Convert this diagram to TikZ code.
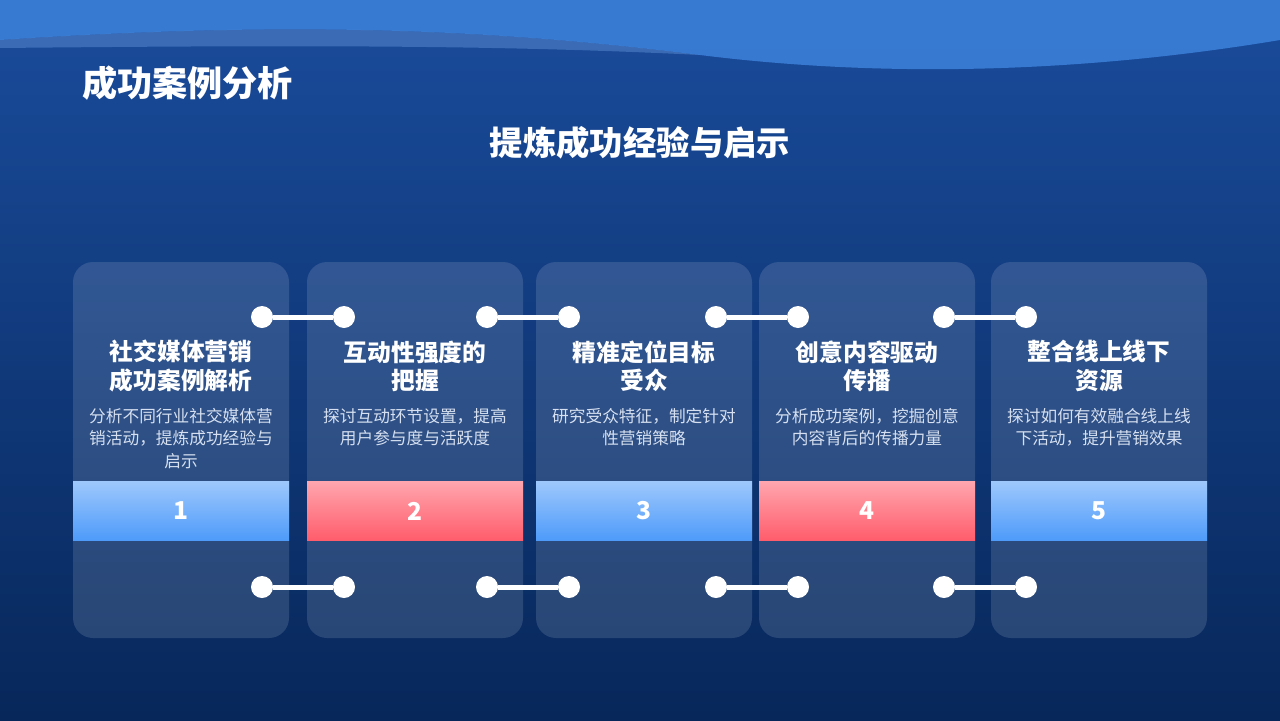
\documentclass[tikz,border=0pt]{standalone}
\usepackage{fontspec}
\setmainfont{Noto Sans CJK SC}
\usepackage{tikz}
\definecolor{bgtop}{HTML}{1A4C9C}
\definecolor{bgbot}{HTML}{07275A}
\definecolor{wave}{HTML}{3F86E0}
\definecolor{bandblue}{HTML}{4E9BFA}
\definecolor{bandred}{HTML}{FF5D6C}
\definecolor{desc}{HTML}{D6E0F0}
\tikzset{
  card/.style={fill=white, fill opacity=0.13, rounded corners=20*0.02cm},
  cardtitle/.style={text=white, font=\bfseries\fontsize{13.5}{16}\selectfont, align=center},
  carddesc/.style={text=desc, font=\fontsize{9.5}{12.8}\selectfont, align=center},
  num/.style={text=white, font=\bfseries\fontsize{14}{16}\selectfont},
  dot/.style={circle, fill=white, minimum size=22*0.02cm, inner sep=0pt},
  link/.style={white, line width=5*0.02cm}
}
\begin{document}
\begin{tikzpicture}[x=0.02cm, y=-0.02cm]
    \shade[top color=bgtop, bottom color=bgbot] (0,0) rectangle (1280,720);
    \useasboundingbox (0,0) rectangle (1280,720);
    % wave at the top
    \fill[wave, opacity=0.8] (0,0) -- (0,40) .. controls (300,20) and (500,30) .. (700,55)
        .. controls (900,80) and (1100,70) .. (1280,40) -- (1280,0) -- cycle;
    \fill[wave!70!white, opacity=0.35] (0,40) .. controls (300,20) and (500,30) .. (700,55)
        .. controls (500,45) and (300,45) .. (0,48) -- cycle;
    \node[text=white, font=\bfseries\fontsize{20}{24}\selectfont, anchor=west] (title) at (76,83) {成功案例分析};
    \node[text=white, font=\bfseries\fontsize{19}{24}\selectfont] (subtitle) at (640,143) {提炼成功经验与启示};
    % cards
    \foreach \x/\c/\n/\ta/\tb/\da in {
        73/bandblue/1/社交媒体营销/成功案例解析/{分析不同行业社交媒体营\\销活动，提炼成功经验与\\启示},
        307/bandred/2/互动性强度的/把握/{探讨互动环节设置，提高\\用户参与度与活跃度},
        536/bandblue/3/精准定位目标/受众/{研究受众特征，制定针对\\性营销策略},
        759/bandred/4/创意内容驱动/传播/{分析成功案例，挖掘创意\\内容背后的传播力量},
        991/bandblue/5/整合线上线下/资源/{探讨如何有效融合线上线\\下活动，提升营销效果}} {
      \fill[card] (\x,262) rectangle ++(216,376);
      \shade[top color=\c!55!white, bottom color=\c] (\x,481) rectangle ++(216,59);
      \node[num] (num\n) at (\x+108,511) {\n};
      \node[cardtitle] (head\n) at (\x+108,366) {\ta\\\tb};
      \node[carddesc, anchor=north] (text\n) at (\x+108,402) {\da};
    }
    % connectors
    \foreach \a/\b [count=\i] in {262/344, 487/569, 716/798, 944/1026} {
      \foreach \y/\s in {317/t, 587/b} {
        \node[dot] (l\s\i) at (\a,\y) {};
        \node[dot] (r\s\i) at (\b,\y) {};
        \draw[link] (l\s\i) -- (r\s\i);
      }
    }
\end{tikzpicture}
\end{document}
